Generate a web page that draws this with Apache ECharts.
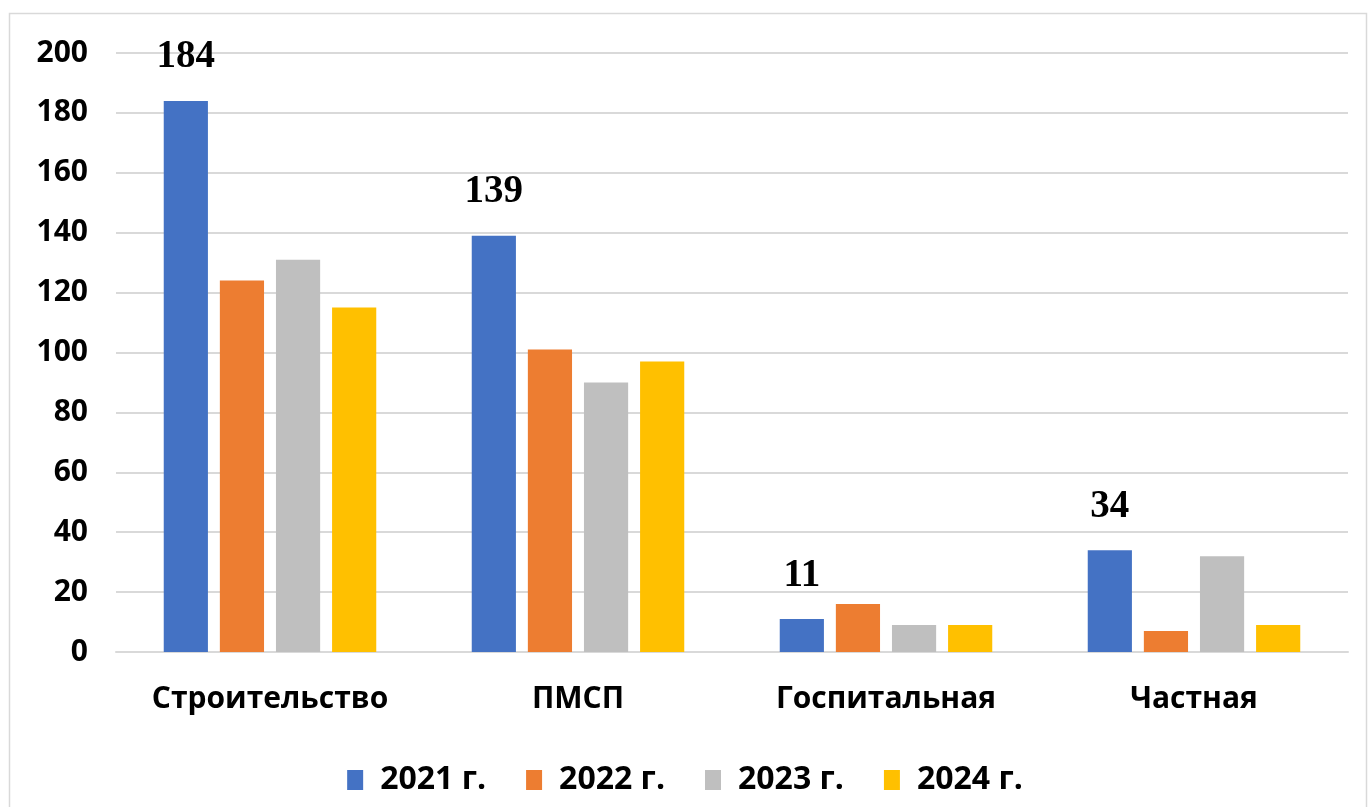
<!DOCTYPE html>
<html><head><meta charset="utf-8">
<script src="https://cdn.jsdelivr.net/npm/echarts@6/dist/echarts.min.js"></script>
<style>html,body{margin:0;padding:0;background:#fff}#c{width:1370px;height:807px}</style>
</head><body><div id="c"></div>
<script>
const categories = ['Строительство', 'ПМСП', 'Госпитальная', 'Частная'];
const seriesNames = ['2021 г.', '2022 г.', '2023 г.', '2024 г.'];
const v2021 = [184, 139, 11, 34];
const v2022 = [124, 101, 16, 7];
const v2023 = [131, 90, 9, 32];
const v2024 = [115, 97, 9, 9];
const colors = ['#4472C4', '#ED7D31', '#BFBFBF', '#FFC000'];
const values = [v2021, v2022, v2023, v2024];

const chart = echarts.init(document.getElementById('c'));
const sansFont = '"Open Sans", "Liberation Sans", sans-serif';
chart.setOption({
  animation: false,
  graphic: [{
    type: 'rect', left: 7, top: 11, shape: { width: 1357, height: 820 },
    style: { fill: 'none', stroke: '#d9d9d9', lineWidth: 1.5 }, silent: true, z: -1
  }],
  grid: { left: 116, right: 22, top: 53, bottom: 155 },
  legend: {
    bottom: 6, left: 'center', itemWidth: 16, itemHeight: 20, itemGap: 40,
    icon: 'rect',
    textStyle: { fontFamily: sansFont, fontWeight: 'bold', fontSize: 32, color: '#000', padding: [0, 0, 0, 12] },
    data: seriesNames
  },
  xAxis: {
    type: 'category', data: categories,
    axisLine: { lineStyle: { color: '#d9d9d9', width: 2 } },
    axisTick: { show: false },
    axisLabel: { margin: 32, fontFamily: sansFont, fontWeight: 'bold', fontSize: 30, color: '#000' }
  },
  yAxis: {
    type: 'value', min: 0, max: 200, interval: 20,
    axisLine: { show: false }, axisTick: { show: false },
    splitLine: { lineStyle: { color: '#d9d9d9', width: 2 } },
    axisLabel: { margin: 28, fontFamily: sansFont, fontWeight: 'bold', fontSize: 30, color: '#000' }
  },
  series: values.map((d, i) => ({
    name: seriesNames[i], type: 'bar', data: d,
    barGap: '27%', barCategoryGap: '31%',
    itemStyle: { color: colors[i] },
    label: i === 0 ? {
      show: true, position: 'top', distance: 24,
      fontFamily: '"Liberation Serif", "Times New Roman", serif', fontWeight: 'bold', fontSize: 39, color: '#000'
    } : { show: false }
  }))
});
</script></body></html>
